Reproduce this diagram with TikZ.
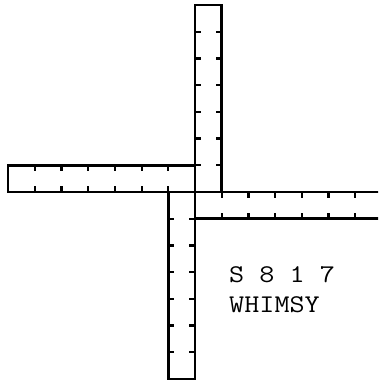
\documentclass[tikz,border=0pt]{standalone}
\usepackage{fontspec}
\usepackage{tikz}
\usetikzlibrary{positioning, calc}

\begin{document}
\begin{tikzpicture}[
    x=1pt, y=1pt,
    armline/.style={draw, line width=2.6pt},
    tickline/.style={draw, line width=2.2pt},
    label/.style={inner sep=0pt, anchor=base west, font=\ttfamily\fontsize{25.5}{30}\selectfont}
]
\def \u{26.7}
\useasboundingbox (0,0) rectangle (378,-382);
\clip (0,0) rectangle (378,-382);
% Centre of the cross
\coordinate (hub) at (195,-192);
% Four arms, one turned from the other
\foreach \ang in {0,90,180,270}{
  \begin{scope}[shift={(hub)}, rotate=\ang]
    \draw[armline] (0,0) rectangle (\u,7*\u);
    \foreach \k in {1,...,6}{
      \draw[tickline] (0,\k*\u) -- ++(6,0);
      \draw[tickline] (\u,\k*\u) -- ++(-6,0);
    }
  \end{scope}
}
% Labels
\node[label] (code) at (229,-282) {\scalebox{1.15}[1]{S 8 1 7}};
\node[label] (name) at (229,-312) {\scalebox{1.15}[1]{WHIMSY}};
\end{tikzpicture}
\end{document}
